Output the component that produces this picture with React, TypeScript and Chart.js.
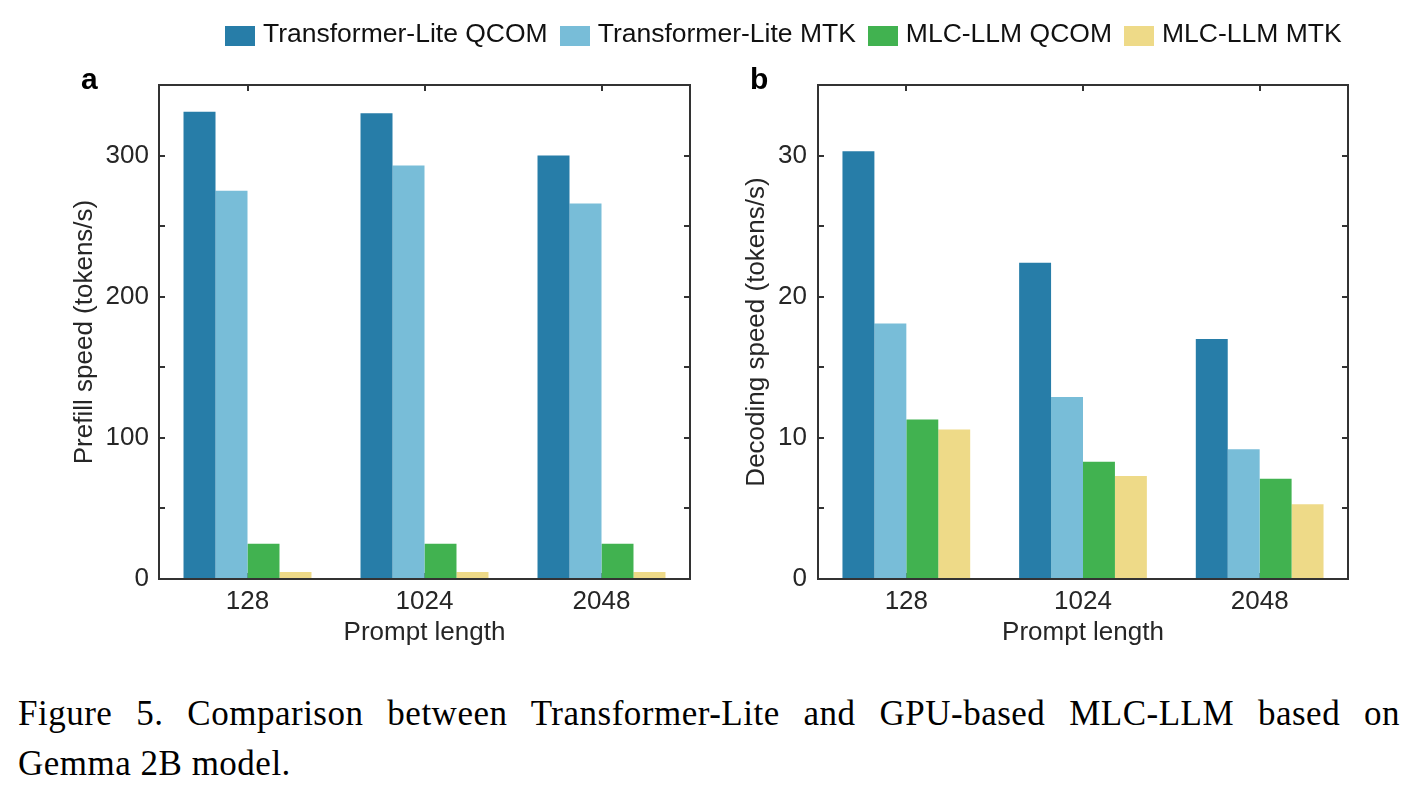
import React, { useEffect, useRef } from 'react';
import { Chart, registerables } from 'chart.js';

Chart.register(...registerables);

// ---------- data ----------
const categories = ['128', '1024', '2048'];
const seriesNames = ['Transformer-Lite QCOM', 'Transformer-Lite MTK', 'MLC-LLM QCOM', 'MLC-LLM MTK'];
const seriesColors = ['#277DA8', '#78BDD8', '#41B250', '#EEDA88'];

const prefillTLQcom = [331, 330, 300];
const prefillTLMtk = [275, 293, 266];
const prefillMLCQcom = [25, 25, 25];
const prefillMLCMtk = [5, 5, 5];

const decodeTLQcom = [30.3, 22.4, 17.0];
const decodeTLMtk = [18.1, 12.9, 9.2];
const decodeMLCQcom = [11.3, 8.3, 7.1];
const decodeMLCMtk = [10.6, 7.3, 5.3];

const prefillTickLabels = [0, 100, 200, 300];
const decodeTickLabels = [0, 10, 20, 30];

const SANS = '"Liberation Sans", Arial, sans-serif';
const SERIF = '"Liberation Serif", "Times New Roman", serif';
const TEXT = '#262626';
const AXIS = '#333333';

const boxPlugin = {
  id: 'matlabBox',
  beforeDatasetsDraw(chart: any) {
    const { ctx, chartArea, scales } = chart;
    const { left, right, top, bottom } = chartArea;
    const x = scales.x;
    const y = scales.y;
    const len = 6;
    ctx.save();
    ctx.strokeStyle = AXIS;
    ctx.lineWidth = 2;
    ctx.beginPath();
    y.ticks.forEach((t: any) => {
      const py = Math.round(y.getPixelForValue(t.value));
      ctx.moveTo(left, py);
      ctx.lineTo(left + len, py);
      ctx.moveTo(right, py);
      ctx.lineTo(right - len, py);
    });
    x.ticks.forEach((_t: any, i: number) => {
      const px = Math.round(x.getPixelForTick(i));
      ctx.moveTo(px, top);
      ctx.lineTo(px, top + len);
      ctx.moveTo(px, bottom);
      ctx.lineTo(px, bottom - len);
    });
    ctx.stroke();
    ctx.restore();
  },
  afterDatasetsDraw(chart: any) {
    const { ctx, chartArea } = chart;
    const { left, right, top, bottom } = chartArea;
    ctx.save();
    ctx.strokeStyle = AXIS;
    ctx.lineWidth = 2;
    ctx.strokeRect(left, top, right - left, bottom - top);
    ctx.restore();
  },
};

type PanelProps = {
  left: number;
  width: number;
  height: number;
  series: number[][];
  yMax: number;
  step: number;
  labels: number[];
  yTitle: string;
  yAxisWidth: number;
  padRight: number;
  titleOffset: number;
  tickPad: number;
};

function Panel(p: PanelProps) {
  const ref = useRef<HTMLCanvasElement | null>(null);
  useEffect(() => {
    if (!ref.current) return;
    const chart = new Chart(ref.current, {
      type: 'bar',
      data: {
        labels: categories,
        datasets: p.series.map((vals, i) => ({
          label: seriesNames[i],
          data: vals,
          backgroundColor: seriesColors[i],
          borderWidth: 0,
          barPercentage: 1,
          categoryPercentage: 0.723,
        })),
      },
      options: {
        responsive: false,
        animation: false,
        devicePixelRatio: 1,
        layout: { padding: { top: 85, right: p.padRight, left: 0, bottom: 0 } },
        plugins: { legend: { display: false }, tooltip: { enabled: false } },
        scales: {
          x: {
            type: 'category',
            offset: true,
            grid: { display: false, drawTicks: false },
            border: { display: false },
            ticks: { font: { family: SANS, size: 26 }, color: TEXT, padding: 7, maxRotation: 0 },
            title: {
              display: true,
              text: 'Prompt length',
              font: { family: SANS, size: 26 },
              color: TEXT,
              padding: { top: 0, bottom: 12 },
            },
            afterFit: (s: any) => {
              s.height = p.height - 579;
            },
          },
          y: {
            min: 0,
            max: p.yMax,
            grid: { display: false, drawTicks: false },
            border: { display: false },
            ticks: {
              stepSize: p.step,
              autoSkip: false,
              font: { family: SANS, size: 26 },
              color: TEXT,
              padding: p.tickPad,
              callback: (v: any) => (p.labels.includes(Number(v)) ? String(v) : ''),
            },
            title: {
              display: true,
              text: p.yTitle,
              font: { family: SANS, size: 26 },
              color: TEXT,
              padding: { top: p.titleOffset, bottom: 0 },
            },
            afterFit: (s: any) => {
              s.width = p.yAxisWidth;
            },
          },
        },
      },
      plugins: [boxPlugin],
    } as any);
    return () => chart.destroy();
  }, []);
  return (
    <canvas
      ref={ref}
      width={p.width}
      height={p.height}
      style={{ position: 'absolute', left: p.left, top: 0, width: p.width, height: p.height }}
    />
  );
}

export default function App() {
  return (
    <div
      style={{
        position: 'absolute',
        left: 0,
        top: 0,
        width: 1413,
        height: 795,
        overflow: 'hidden',
        background: '#ffffff',
      }}
    >
      <Panel
        left={0}
        width={720}
        height={660}
        series={[prefillTLQcom, prefillTLMtk, prefillMLCQcom, prefillMLCMtk]}
        yMax={350}
        step={50}
        labels={prefillTickLabels}
        yTitle="Prefill speed (tokens/s)"
        yAxisWidth={159}
        padRight={30}
        titleOffset={69}
        tickPad={10}
      />
      <Panel
        left={720}
        width={693}
        height={660}
        series={[decodeTLQcom, decodeTLMtk, decodeMLCQcom, decodeMLCMtk]}
        yMax={35}
        step={5}
        labels={decodeTickLabels}
        yTitle="Decoding speed (tokens/s)"
        yAxisWidth={98}
        padRight={65}
        titleOffset={21}
        tickPad={11}
      />

      {/* legend */}
      <div
        style={{
          position: 'absolute',
          left: 225,
          top: 20,
          display: 'flex',
          alignItems: 'flex-start',
          fontFamily: SANS,
          fontSize: 26.5,
          lineHeight: '26.5px',
          color: '#111',
          whiteSpace: 'nowrap',
        }}
      >
        {seriesNames.map((n, i) => (
          <div key={n} style={{ display: 'flex', alignItems: 'flex-start', marginRight: 12 }}>
            <span
              style={{
                display: 'inline-block',
                width: 30,
                height: 20,
                marginTop: 6,
                marginRight: 8,
                background: seriesColors[i],
              }}
            />
            <span>{n}</span>
          </div>
        ))}
      </div>

      {/* panel letters */}
      <div
        style={{
          position: 'absolute',
          left: 81,
          top: 64,
          fontFamily: SANS,
          fontWeight: 'bold',
          fontSize: 30,
          lineHeight: '30px',
          color: '#000',
        }}
      >
        a
      </div>
      <div
        style={{
          position: 'absolute',
          left: 750,
          top: 64,
          fontFamily: SANS,
          fontWeight: 'bold',
          fontSize: 30,
          lineHeight: '30px',
          color: '#000',
        }}
      >
        b
      </div>

      {/* caption */}
      <div
        style={{
          position: 'absolute',
          left: 18,
          top: 696,
          width: 1382,
          fontFamily: SERIF,
          fontSize: 35,
          lineHeight: '35px',
          letterSpacing: 0.5,
          color: '#000',
          textAlign: 'justify',
          textAlignLast: 'justify' as any,
        }}
      >
        Figure 5. Comparison between Transformer-Lite and GPU-based MLC-LLM based on
      </div>
      <div
        style={{
          position: 'absolute',
          left: 18,
          top: 746,
          fontFamily: SERIF,
          fontSize: 35,
          lineHeight: '35px',
          letterSpacing: 0.5,
          color: '#000',
          whiteSpace: 'nowrap',
        }}
      >
        Gemma 2B model.
      </div>
    </div>
  );
}
